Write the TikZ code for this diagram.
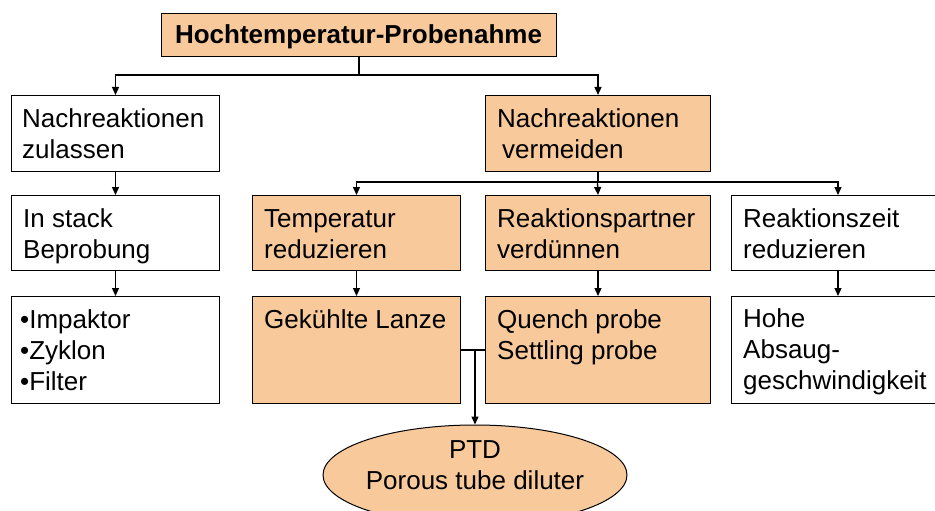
\documentclass[tikz,border=0pt]{standalone}
\usepackage{fontspec}
\setmainfont{Liberation Sans}
\usetikzlibrary{arrows.meta,shapes.geometric}
\definecolor{peach}{HTML}{F8C99A}
\newcommand{\firstline}{\rule{0pt}{21pt}}
\begin{document}
\begin{tikzpicture}[x=1pt,y=-1pt,
  box/.style={draw=black,line width=1pt,rectangle,inner sep=0pt,anchor=north west},
  hot/.style={box,fill=peach},
  cold/.style={box,fill=white},
  txt/.style={inner sep=0pt,anchor=north west,align=left,font=\fontsize{26}{31}\selectfont},
  link/.style={draw=black,line width=1.3pt},
  arr/.style={link,-{Triangle[length=8pt,width=7pt]}}]
\useasboundingbox (0,0) rectangle (935,511);
\clip (0,0) rectangle (935,511);
\fill[white] (0,0) rectangle (935,511);

% top box
\node[hot,minimum width=395pt,minimum height=43pt] (top) at (161,13) {};
\node[txt,anchor=north,align=center,font=\fontsize{26}{31}\selectfont\bfseries] (ttop) at (358.5,22.5) {\firstline Hochtemperatur-Probenahme};

% second row
\node[cold,minimum width=208pt,minimum height=76pt] (b1) at (11,95) {};
\node[hot,minimum width=225pt,minimum height=76pt] (b2) at (485,95) {};
\node[txt] (tb1) at (22,106) {\firstline Nachreaktionen\\zulassen};
\node[txt] (tb2) at (497,106) {\firstline Nachreaktionen\\\hspace*{5pt}vermeiden};

% third row
\node[cold,minimum width=208pt,minimum height=75pt] (c1) at (11,195) {};
\node[hot,minimum width=208pt,minimum height=75pt] (c2) at (252,195) {};
\node[hot,minimum width=225pt,minimum height=75pt] (c3) at (485,195) {};
\node[cold,minimum width=213pt,minimum height=75pt] (c4) at (731,195) {};
\node[txt] (tc1) at (23,206) {\firstline In stack\\Beprobung};
\node[txt] (tc2) at (264,206) {\firstline Temperatur\\reduzieren};
\node[txt] (tc3) at (497,206) {\firstline Reaktionspartner\\verdünnen};
\node[txt] (tc4) at (743,206) {\firstline Reaktionszeit\\reduzieren};

% fourth row
\node[cold,minimum width=208pt,minimum height=107pt] (d1) at (11,296) {};
\node[hot,minimum width=208pt,minimum height=107pt] (d2) at (252,296) {};
\node[hot,minimum width=225pt,minimum height=107pt] (d3) at (485,296) {};
\node[cold,minimum width=213pt,minimum height=107pt] (d4) at (731,296) {};
\node[txt] (td1) at (20,307) {\firstline •Impaktor\\•Zyklon\\•Filter};
\node[txt] (td2) at (264,307) {\firstline Gekühlte Lanze};
\node[txt] (td3) at (497,307) {\firstline Quench probe\\Settling probe};
\node[txt] (td4) at (743,306) {\firstline Hohe\\Absaug-\\geschwindigkeit};

% dilution unit
\node[draw=black,line width=1pt,fill=peach,ellipse,inner sep=0pt,
      minimum width=304pt,minimum height=100pt] (ptd) at (475,475) {};
\node[txt,anchor=north,align=center] (tptd) at (475,437) {\firstline PTD\\Porous tube diluter};

% connectors
\coordinate (j1) at (358.5,75);
\coordinate (j2) at (597.5,182);
\coordinate (j3) at (475,349.5);
\draw[link] (top.south) -- (top.south |- j1);
\draw[arr] (j1) -| (b1.north);
\draw[arr] (j1) -| (b2.north);
\draw[arr] (b1.south) -- (c1.north);
\draw[arr] (c1.south) -- (d1.north);
\draw[link] (b2.south) -- (b2.south |- j2);
\draw[arr] (j2) -| (c2.north);
\draw[arr] (j2) -- (c3.north);
\draw[arr] (j2) -| (c4.north);
\draw[arr] (c2.south) -- (d2.north);
\draw[arr] (c3.south) -- (d3.north);
\draw[arr] (c4.south) -- (d4.north);
\draw[link] (d2.east) -- (d3.west);
\draw[arr] (j3) -- (ptd.north);
\end{tikzpicture}
\end{document}
